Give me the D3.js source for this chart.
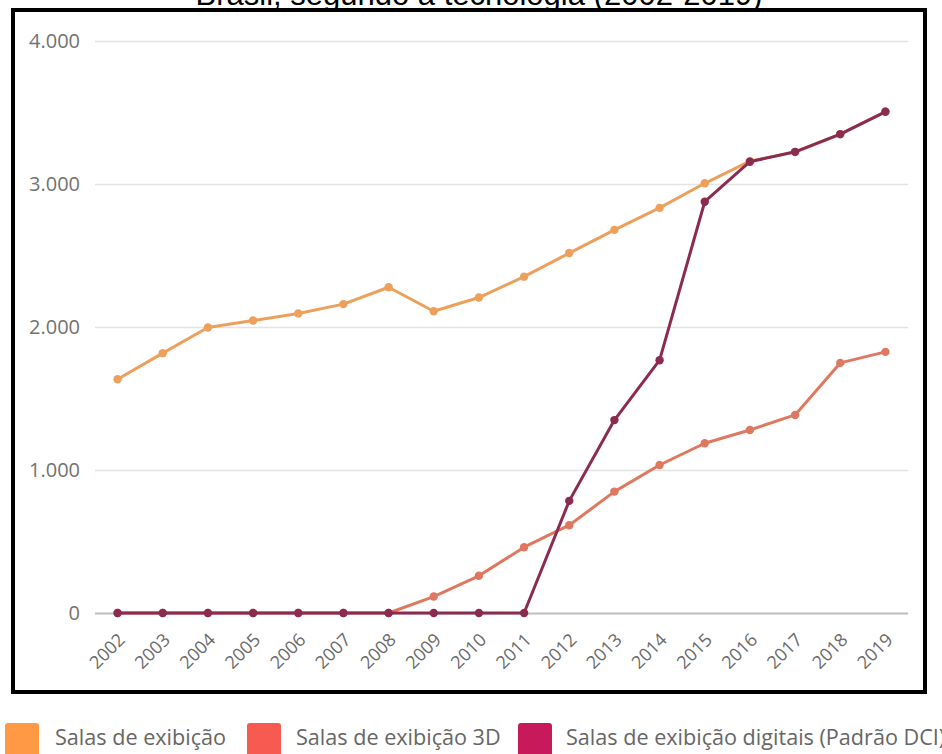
<!DOCTYPE html>
<html>
<head>
<meta charset="utf-8">
<script src="https://cdn.jsdelivr.net/npm/d3@7"></script>
<style>
  html, body { margin: 0; padding: 0; background: #fff; }
  svg { display: block; }
</style>
</head>
<body>
<svg id="chart" width="942" height="754"></svg>
<script>
const titleText = "Brasil, segundo a tecnologia (2002-2019)";
const years = ["2002","2003","2004","2005","2006","2007","2008","2009","2010","2011","2012","2013","2014","2015","2016","2017","2018","2019"];
const salas = [1635, 1817, 1997, 2045, 2095, 2160, 2278, 2110, 2206, 2352, 2517, 2679, 2833, 3005, 3160, 3223, 3347, 3507];
const salas3d = [0, 0, 0, 0, 0, 0, 0, 115, 260, 460, 614, 849, 1035, 1187, 1280, 1385, 1749, 1826];
const digitais = [0, 0, 0, 0, 0, 0, 0, 0, 0, 0, 784, 1349, 1768, 2876, 3156, 3225, 3349, 3505];
const yTicks = [0, 1000, 2000, 3000, 4000];
const seriesNames = ["Salas de exibição", "Salas de exibição 3D", "Salas de exibição digitais (Padrão DCI)"];

const lineColors = ["#eda05c", "#e07860", "#8c2b50"];
const swatchColors = ["#ff9945", "#f65a50", "#c8195a"];

const svg = d3.select("#chart");
const fontUI = "'Open Sans', sans-serif";

// title (clipped at the top edge, as in the reference screenshot)
svg.append("text")
  .attr("x", 479).attr("y", 5)
  .attr("text-anchor", "middle")
  .attr("font-family", "'Liberation Sans', Arial, sans-serif")
  .attr("font-size", 31)
  .attr("fill", "#000")
  .text(titleText);

// frame
svg.append("rect")
  .attr("x", 13).attr("y", 10)
  .attr("width", 912).attr("height", 682)
  .attr("fill", "none").attr("stroke", "#000").attr("stroke-width", 4);

const x = d3.scalePoint().domain(years).range([95, 908]).padding(0.5);
const y = d3.scaleLinear().domain([0, 4000]).range([613, 41]);

// gridlines + y labels
const yAxis = d3.axisLeft(y).tickValues(yTicks).tickSize(-(908 - 95)).tickPadding(15)
  .tickFormat(d => d3.format(",")(d).replace(/,/g, "."));
const gy = svg.append("g").attr("transform", "translate(95,0)").call(yAxis);
gy.select(".domain").remove();
gy.selectAll(".tick line").attr("stroke", d => d === 0 ? "#bdbdbd" : "#e3e3e3").attr("stroke-width", d => d === 0 ? 2 : 1.5);
gy.selectAll(".tick text").attr("font-family", fontUI).attr("font-size", 20).attr("fill", "#727272");

// x axis labels
const xAxis = d3.axisBottom(x).tickSize(0).tickPadding(0);
const gx = svg.append("g").attr("transform", "translate(0,613)").call(xAxis);
gx.select(".domain").remove();
gx.selectAll(".tick text")
  .attr("font-family", fontUI).attr("font-size", 18).attr("fill", "#6a6a6a")
  .attr("text-anchor", "end")
  .attr("dy", 0).attr("y", 0)
  .attr("transform", "translate(8,28) rotate(-45)");

const allSeries = [salas, salas3d, digitais];
const line = d3.line().x((d, i) => x(years[i])).y(d => y(d));

allSeries.forEach((vals, si) => {
  const g = svg.append("g");
  g.append("path").datum(vals)
    .attr("d", line)
    .attr("fill", "none")
    .attr("stroke", lineColors[si])
    .attr("stroke-width", 3)
    .attr("stroke-linejoin", "round");
  g.selectAll("circle").data(vals).join("circle")
    .attr("cx", (d, i) => x(years[i]))
    .attr("cy", d => y(d))
    .attr("r", 4.2)
    .attr("fill", lineColors[si]);
});

// legend
const legendX = [5, 247, 518];
const legendTextX = [55, 296, 566];
seriesNames.forEach((name, i) => {
  svg.append("rect")
    .attr("x", legendX[i]).attr("y", 723)
    .attr("width", 34).attr("height", 40).attr("rx", 3)
    .attr("fill", swatchColors[i]);
  svg.append("text")
    .attr("x", legendTextX[i]).attr("y", 745)
    .attr("font-family", fontUI).attr("font-size", 21.6).attr("fill", "#666")
    .text(name);
});
</script>
</body>
</html>
